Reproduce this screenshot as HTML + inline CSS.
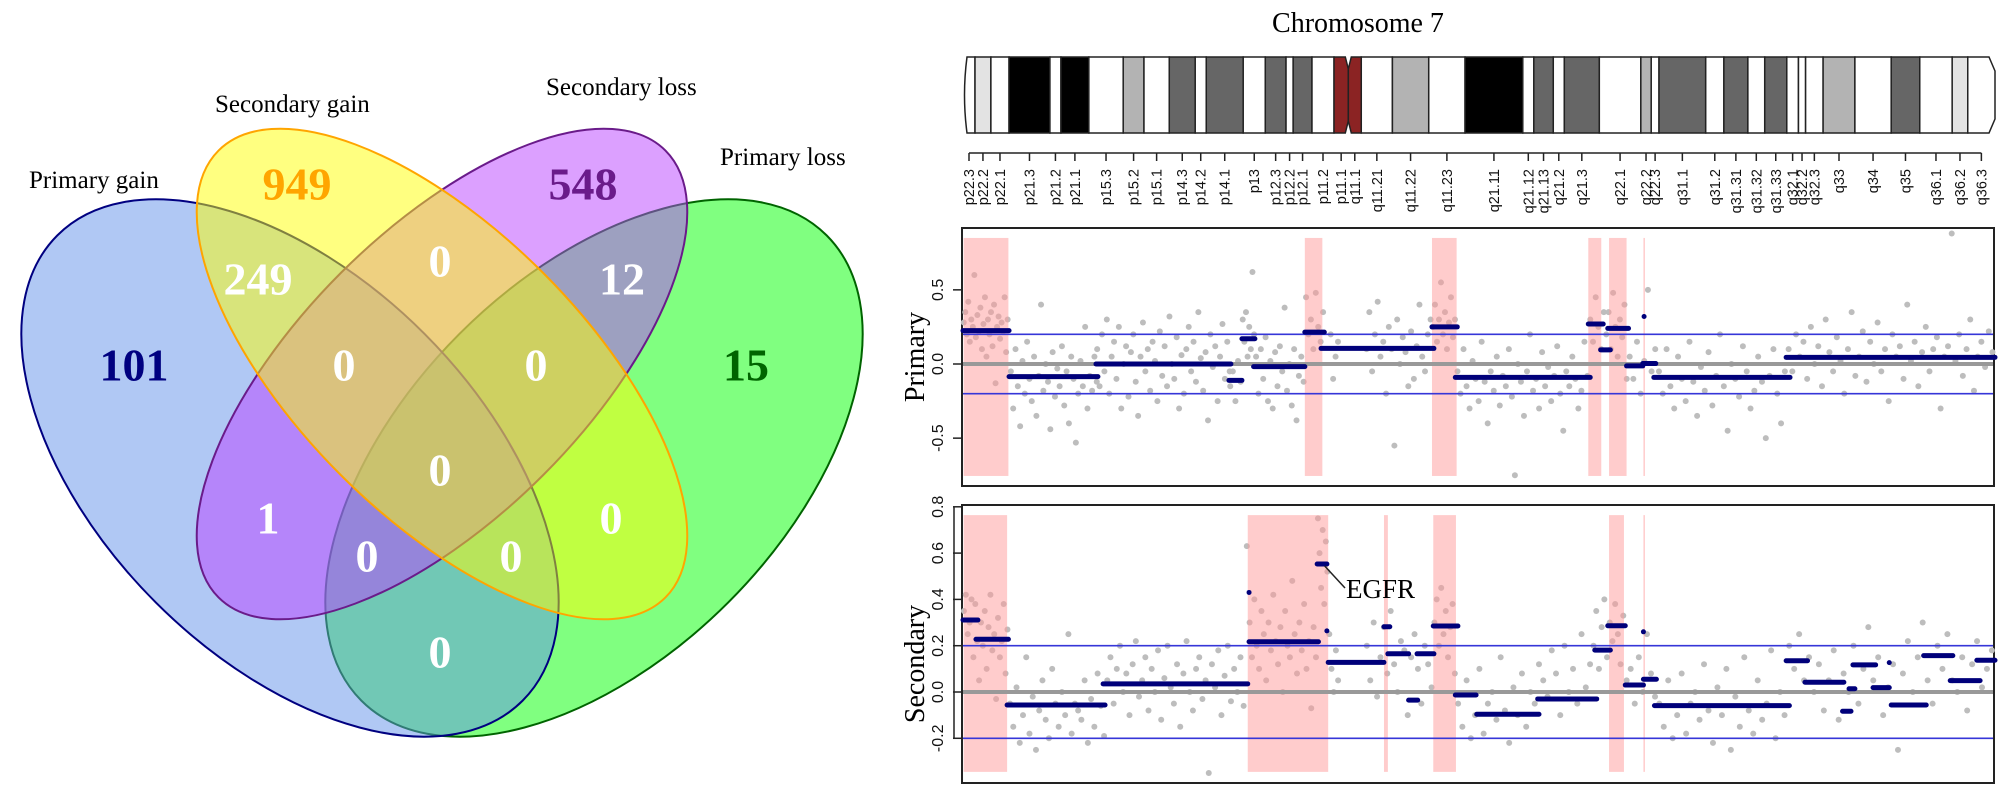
<!DOCTYPE html>
<html><head><meta charset="utf-8"><title>Venn and Chromosome 7 copy number</title>
<style>
html,body{margin:0;padding:0;background:#fff;}
svg{display:block;}
.serif{font-family:"Liberation Serif",serif;}
.sans{font-family:"Liberation Sans",sans-serif;}
</style></head>
<body>
<svg id="fig" width="2008" height="796" viewBox="0 0 2008 796" xmlns="http://www.w3.org/2000/svg">
  <g id="venn">
    <ellipse cx="594" cy="468" rx="329" ry="190" transform="rotate(-45 594 468)" fill="#01ff01" fill-opacity="0.5" stroke="#006400" stroke-width="2"/>
    <ellipse cx="290" cy="468" rx="329" ry="190" transform="rotate(45 290 468)" fill="#6191e9" fill-opacity="0.5" stroke="#000080" stroke-width="2"/>
    <ellipse cx="442" cy="374" rx="316" ry="143" transform="rotate(-45 442 374)" fill="#b941ff" fill-opacity="0.5" stroke="#6a1b8a" stroke-width="2"/>
    <ellipse cx="442" cy="374" rx="316" ry="143" transform="rotate(45 442 374)" fill="#ffff01" fill-opacity="0.5" stroke="#ffa500" stroke-width="2"/>
    <g class="serif" font-size="25" fill="#000">
      <text x="29" y="188">Primary gain</text>
      <text x="215" y="112">Secondary gain</text>
      <text x="546" y="95">Secondary loss</text>
      <text x="720" y="165">Primary loss</text>
    </g>
    <g class="serif" font-size="46" font-weight="bold" text-anchor="middle" dominant-baseline="central" fill="#fff">
      <text x="297" y="184" fill="#ffa500">949</text>
      <text x="583" y="184" fill="#6a1b8a">548</text>
      <text x="258" y="279">249</text>
      <text x="440" y="261">0</text>
      <text x="622" y="279">12</text>
      <text x="134" y="365" fill="#000080">101</text>
      <text x="344" y="365">0</text>
      <text x="536" y="365">0</text>
      <text x="746" y="365" fill="#006400">15</text>
      <text x="440" y="470">0</text>
      <text x="268" y="518">1</text>
      <text x="611" y="518">0</text>
      <text x="367" y="556">0</text>
      <text x="511" y="556">0</text>
      <text x="440" y="652">0</text>
    </g>
  </g>
  <text x="1358" y="32" class="serif" font-size="28" text-anchor="middle">Chromosome 7</text>
  <g id="ideo"></g>
  <g id="bandaxis"></g>
  <g id="primary"></g>
  <g id="secondary"></g>
</svg>
<script>
const bandNames = ["p22.3","p22.2","p22.1","p21.3","p21.2","p21.1","p15.3","p15.2","p15.1","p14.3","p14.2","p14.1","p13","p12.3","p12.2","p12.1","p11.2","p11.1","q11.1","q11.21","q11.22","q11.23","q21.11","q21.12","q21.13","q21.2","q21.3","q22.1","q22.2","q22.3","q31.1","q31.2","q31.31","q31.32","q31.33","q32.1","q32.2","q32.3","q33","q34","q35","q36.1","q36.2","q36.3"];
const bandEdges = [0,1.85,4.3,7.1,13.4,15.1,19.4,24.7,27.9,31.8,35.8,37.5,43.2,46.6,49.8,50.9,53.8,57.2,59.4,61.4,66.2,71.8,77.4,86.3,88.0,91.0,92.7,98.1,104.5,106.1,107.3,114.5,117.3,121.0,123.6,127.0,128.8,129.9,132.6,137.5,143.1,147.5,152.5,154.9,159.1];
const bandStains = ["w","vl","w","b","w","b","w","l","w","d","w","d","w","d","w","d","w","a","a","w","l","w","b","w","d","w","d","w","l","w","d","w","d","w","d","w","w","w","l","w","d","w","vl","w"];

const primaryTicks = [-0.5,0,0.5];
const primaryTickLabels = ["-0.5","0.0","0.5"];
const secondaryTicks = [-0.2,0,0.2,0.4,0.6,0.8];
const secondaryTickLabels = ["-0.2","0.0","0.2","0.4","0.6","0.8"];

const primaryRegionStart = [0.1,52.7,72.3,96.4,99.6,104.9];
const primaryRegionEnd   = [7.0,55.4,76.1,98.4,102.3,105.1];
const secondaryRegionStart = [0.1,43.9,64.9,72.5,99.6,104.9];
const secondaryRegionEnd   = [6.8,56.3,65.5,76.0,101.9,105.1];

const primarySegStart = [0,7.1,20.5,41.0,43.0,44.8,52.7,55.2,72.3,75.9,96.4,98.3,99.4,102.3,104.8,105.0,106.5,126.9];
const primarySegEnd   = [7.1,20.8,41.3,43.0,45.0,52.7,55.7,72.6,76.2,96.7,98.7,99.8,102.6,104.8,106.8,105.0,127.5,159.1];
const primarySegValue = [0.225,-0.085,0.0,-0.11,0.17,-0.018,0.215,0.105,0.25,-0.09,0.27,0.095,0.24,-0.013,0.003,0.32,-0.09,0.045];

const secondarySegStart = [0,2.0,6.8,21.6,44.1,44.1,54.6,56.1,56.3,64.9,65.5,68.7,70.0,72.5,75.9,79.2,88.6,97.4,99.4,102.1,104.9,104.9,106.6,126.9,129.8,135.6,136.6,137.2,140.3,142.8,143.1,148.1,152.2,156.3];
const secondarySegEnd   = [2.3,7.0,21.9,43.9,44.1,54.8,56.1,56.1,64.9,65.8,68.7,70.1,72.6,76.3,79.1,88.8,97.7,99.8,102.1,104.9,104.9,106.9,127.4,130.2,135.8,136.9,137.5,140.7,142.8,142.8,148.5,152.6,156.8,159.1];
const secondarySegValue = [0.311,0.228,-0.056,0.035,0.43,0.217,0.553,0.264,0.128,0.282,0.165,-0.035,0.165,0.285,-0.013,-0.096,-0.030,0.181,0.286,0.030,0.26,0.055,-0.059,0.135,0.042,-0.083,0.014,0.117,0.019,0.127,-0.056,0.157,0.049,0.137];

const primaryClusterStart = [0,7.2,20.5,41,43,45,52.7,56.5,62,72.3,76,96.5,99,102.5,107,127];
const primaryClusterEnd   = [7,20.8,41.3,43,45,52.7,55.7,58,72.3,76,96.5,99,102.5,107,127,159];
const primaryClusterValues = [
 [0.28,0.35,0.2,0.42,0.15,0.3,0.25,0.6,0.18,0.33,0.22,0.38,0.1,0.27,0.45,0.05,0.3,0.2,0.35,0.12,0.4,-0.13,0.25,0.32,0.17,0.28,0.22,0.45,0.08,0.3],
 [-0.05,-0.3,0.1,-0.15,-0.42,0.02,-0.2,0.15,-0.1,-0.25,0.05,-0.35,-0.08,0.4,-0.18,0,-0.12,-0.44,0.08,-0.22,-0.03,-0.15,0.12,-0.28,-0.05,-0.4,0.05,-0.1,-0.53,-0.2,0.02,-0.15,0.25,-0.3,-0.08,-0.18,0.05,-0.12],
 [0.1,-0.15,0.2,-0.05,0.3,-0.2,0.05,0.15,-0.1,0.25,-0.3,0,0.12,-0.22,0.08,0.2,-0.12,-0.35,0.05,0.28,-0.05,0.1,-0.18,0.15,0.02,-0.25,0.22,-0.08,0.12,-0.15,0.32,0,-0.1,0.18,-0.3,0.06,-0.2,0.1,0.25,-0.05,0.15,-0.12,0.35,0.04,-0.18,0.08,-0.38,0.2,-0.02,0.12,-0.25,0.05,0.27,-0.1,0.15,-0.05],
 [-0.15,-0.05,-0.25,0.02,-0.12],
 [0.3,0.15,0.35,0.05,0.25,0.1,0.62,0.2],
 [0.05,-0.2,0.1,-0.1,0.18,-0.25,0.02,-0.3,0.08,-0.15,0.12,-0.05,0.38,-0.18,0,-0.28,0.1,-0.38,-0.08,0.05,-0.12],
 [0.45,0.2,0.3,0.1,0.48,0.25,0.15,0.35],
 [0.2,-0.1,0.05,0.15],
 [0.1,0.35,-0.05,0.2,0.42,0.05,0.15,-0.2,0.25,0.1,-0.55,0.3,0,0.18,0.08,-0.15,0.22,-0.1,0.12,0.4,0.05,-0.05,0.2,0.3],
 [0.25,0.4,0.15,0.3,0.55,0.2,0.35,0.1,0.28,0.45,0.18,0.3],
 [-0.05,-0.2,0.1,-0.15,-0.3,0.02,-0.1,-0.25,0.15,-0.12,-0.4,-0.05,-0.18,0.05,-0.28,-0.08,-0.15,0.1,-0.22,-0.75,0,-0.12,-0.35,-0.05,0.2,-0.18,-0.1,-0.3,0.08,-0.15,-0.02,-0.25,-0.08,0.12,-0.2,-0.45,-0.05,-0.15,0.05,-0.1,-0.3,-0.18,0.15,-0.08],
 [0.3,0.15,0.45,0.25,0.1,0.35],
 [0.2,0.35,0.1,0.48,0.25,0.05,0.3,0.18,0.4,-0.1],
 [0.05,-0.1,0.15,-0.2,0.02,0.5,-0.05,0.1],
 [-0.05,-0.2,0.1,-0.15,-0.3,0.05,-0.1,-0.25,0.15,-0.12,-0.35,-0.02,-0.18,0.08,-0.28,-0.08,0.2,-0.15,-0.45,0,-0.1,-0.22,0.12,-0.05,-0.3,-0.18,0.05,-0.12,-0.5,-0.08,0.1,-0.2,-0.4,-0.05],
 [0.1,-0.05,0.2,0.05,0.15,-0.1,0.25,0.0,0.12,-0.15,0.3,0.08,-0.05,0.18,0.02,-0.2,0.1,0.35,-0.08,0.05,0.22,-0.12,0.15,0.0,0.28,-0.05,0.1,-0.25,0.2,0.05,0.12,-0.1,0.4,0.02,0.15,-0.15,0.08,0.25,-0.05,0.1,0.18,-0.3,0.05,0.12,0.88,0.02,0.2,-0.08,0.1,0.3,-0.18,0.05,0.15,-0.02,0.22,0.08]
];
const secondaryClusterStart = [0,7,22,44,54.6,56.3,62,72.5,76,97,102,107,127];
const secondaryClusterEnd   = [7,22,44,54.6,56.3,58,72.5,76,97,102,107,127,159];
const secondaryClusterValues = [
 [0.35,0.42,0.25,0.3,0.4,0.15,0.38,0.22,0.05,0.3,0.2,0.35,0.1,0.28,0.42,0.18,0.25,-0.03,0.32,0.15,0.22,0.38,0.08,0.27],
 [-0.05,-0.15,0.02,-0.22,-0.1,0.15,-0.18,-0.02,-0.25,-0.08,0.05,-0.12,-0.2,0.1,-0.05,-0.15,0.0,-0.1,0.25,-0.18,-0.05,-0.08,-0.12,0.05,-0.22,-0.03,-0.15,0.08,-0.06,-0.19],
 [0.05,0.15,-0.05,0.1,0.2,0.0,0.08,-0.1,0.12,0.22,-0.02,0.05,0.15,-0.08,0.1,0.0,0.18,-0.12,0.06,0.2,0.02,-0.05,0.12,-0.15,0.08,0.22,0.0,-0.08,0.1,0.15,-0.03,0.05,-0.35,0.12,0.02,0.18,-0.1,0.07,0.2,-0.04,0.1,0.0,0.15,-0.06,0.63],
 [0.3,0.15,0.4,0.2,0.1,0.35,0.25,0.05,0.3,0.18,0.42,0.22,0.12,0.28,0.0,0.35,0.2,0.15,0.48,0.25,0.08,0.3,0.18,0.38,0.1,0.22,-0.07,0.28,0.15],
 [0.75,0.6,0.45,0.7,0.38,0.65,0.52],
 [0.25,0.1,0.0,0.18,0.05],
 [0.2,0.05,0.3,-0.02,0.15,0.28,0.08,0.35,0.12,0.0,0.22,0.18,-0.1,0.15,0.25,0.1,-0.05,0.2,0.12,0.02],
 [0.3,0.4,0.2,0.45,0.25,0.35,0.15,0.28,0.38,0.08],
 [-0.05,-0.15,0.05,-0.2,-0.1,0.1,-0.18,-0.05,0.0,-0.12,0.15,-0.08,-0.22,0.02,-0.1,0.08,-0.15,0.0,-0.05,0.12,0.05,-0.02,0.18,0.08,-0.1,0.2,0.0,0.1,-0.05,0.25,0.02,0.12],
 [0.2,0.35,0.1,0.28,0.4,0.15,0.3,0.22,0.38,0.25,0.12,0.33],
 [0.05,0.1,-0.05,0.15,0.0,0.25,0.08,-0.02],
 [-0.05,-0.15,0.05,-0.2,-0.1,0.08,-0.18,-0.05,0.0,-0.12,0.12,-0.08,-0.22,0.02,-0.1,0.1,-0.25,-0.02,-0.15,0.15,-0.08,-0.18,0.05,-0.12,-0.05,0.18,-0.2,0.0,-0.1],
 [0.2,0.1,0.25,0.05,0.15,0.0,0.12,-0.08,0.05,0.18,-0.12,0.08,0.0,0.2,-0.05,0.1,0.28,0.05,0.15,-0.1,0.02,0.12,-0.25,0.08,0.22,0.0,0.15,0.3,0.05,-0.05,0.2,0.1,0.25,0.05,0.0,0.15,-0.08,0.12,0.22,0.02,0.1,0.18]
];

const NS = "http://www.w3.org/2000/svg";
const X0 = 963, XW = 1032, CHR = 159.1;
function xScale(mb){ return X0 + mb * XW / CHR; }
function yPrimary(v){ return 364 - v * 148.3; }
function ySecondary(v){ return 692 - v * 231.5; }
function mk(tag, parent, attrs){
  const el = document.createElementNS(NS, tag);
  for (const k in attrs) el.setAttribute(k, attrs[k]);
  parent.appendChild(el);
  return el;
}
const stainColor = {w:"#ffffff", vl:"#e3e3e3", l:"#b3b3b3", d:"#666666", b:"#000000", a:"#8b2323"};

const ideo = document.getElementById('ideo');
const IT = 57, IB = 133;
for (let i = 0; i < bandNames.length; i++) {
  const x1 = xScale(bandEdges[i]), x2 = xScale(bandEdges[i+1]);
  let el;
  if (bandStains[i] === 'a') {
    const pts = bandNames[i] === 'p11.1'
      ? [[x1,IT],[x2-3,IT],[x2,IT+12],[x2,IB-12],[x2-3,IB],[x1,IB]]
      : [[x1+3,IT],[x2,IT],[x2,IB],[x1+3,IB],[x1,IB-12],[x1,IT+12]];
    el = mk('polygon', ideo, {points: pts.map(p=>p.join(',')).join(' '), fill: stainColor.a, stroke:"#222", "stroke-width":1.5});
  } else if (i === 0) {
    el = mk('path', ideo, {d:`M${x2},${IT} L${x1+4},${IT} Q${x1-1},${(IT+IB)/2} ${x1+4},${IB} L${x2},${IB} Z`, fill: stainColor[bandStains[i]], stroke:"#222", "stroke-width":1.5});
  } else if (i === bandNames.length - 1) {
    el = mk('path', ideo, {d:`M${x1},${IT} L${x2-6},${IT} L${x2},${IT+14} L${x2},${IB-14} L${x2-6},${IB} L${x1},${IB} Z`, fill: stainColor[bandStains[i]], stroke:"#222", "stroke-width":1.5});
  } else {
    el = mk('rect', ideo, {x:x1, y:IT, width:x2-x1, height:IB-IT, fill: stainColor[bandStains[i]], stroke:"#222", "stroke-width":1.5});
  }
  
  
}

const bax = document.getElementById('bandaxis');
const mids = bandNames.map((n,i)=> xScale((bandEdges[i]+bandEdges[i+1])/2));
const axl = mk('line', bax, {x1:mids[0], x2:mids[mids.length-1], y1:153, y2:153, stroke:"#222", "stroke-width":1.5});


for (let i = 0; i < bandNames.length; i++) {
  const t = mk('line', bax, {x1:mids[i], x2:mids[i], y1:153, y2:161, stroke:"#222", "stroke-width":1.5});
  
  
  const tx = mk('text', bax, {x:0, y:0, transform:`translate(${mids[i]+5},169) rotate(-90)`, "text-anchor":"end", "font-size":"14.5", "font-family":"Liberation Sans, sans-serif", fill:"#111"});
  tx.textContent = bandNames[i];
  
  
}

function panel(g, ys, top, bottom, ticks, tickLabels, regS, regE, clS, clE, clV, segS, segE, segV, title, titleName, regTop, regBot, axisLine){
  const box = mk('rect', g, {x:962, y:top, width:1032, height:bottom-top, fill:"#fff", stroke:"#222", "stroke-width":2});
  
  
  for (let c = 0; c < clV.length; c++) {
    const n = clV[c].length;
    for (let k = 0; k < n; k++) {
      const mb = clS[c] + (clE[c]-clS[c]) * (k + 0.5) / n;
      const p = mk('circle', g, {cx:xScale(mb), cy:ys(clV[c][k]), r:3, fill:"#bdbdbd"});
      
      
    }
  }
  for (let i = 0; i < regS.length; i++) {
    const r = mk('rect', g, {x:xScale(regS[i]), y:regTop, width:Math.max(1.5, xScale(regE[i])-xScale(regS[i])), height:regBot-regTop, fill:"#ff9a9a", "fill-opacity":0.5});
    
    
  }
  const z = mk('line', g, {x1:963, x2:1993, y1:ys(0), y2:ys(0), stroke:"#999", "stroke-width":4});
  
  
  [0.2,-0.2].forEach(v=>{
    const l = mk('line', g, {x1:963, x2:1993, y1:ys(v), y2:ys(v), stroke:"#3636d8", "stroke-width":1.6});
    
    
  });
  for (let i = 0; i < segV.length; i++) {
    const s = mk('line', g, {x1:xScale(segS[i]), x2:xScale(segE[i]), y1:ys(segV[i]), y2:ys(segV[i]), stroke:"#00007a", "stroke-width":5, "stroke-linecap":"round"});
    
    
  }
  if (axisLine) {
    const al = mk('line', g, {x1:954, x2:954, y1:ys(ticks[0]), y2:ys(ticks[ticks.length-1]), stroke:"#222", "stroke-width":1.5});
    
    
  }
  for (let i = 0; i < ticks.length; i++) {
    const y = ys(ticks[i]);
    const t = mk('line', g, {x1:953, x2:962, y1:y, y2:y, stroke:"#222", "stroke-width":1.5});
    
    
    const lb = mk('text', g, {x:0, y:0, transform:`translate(943,${y}) rotate(-90)`, "text-anchor":"middle", "font-size":"16", "font-family":"Liberation Sans, sans-serif", fill:"#111"});
    lb.textContent = tickLabels[i];
    
    
  }
  const tt = mk('text', g, {x:0, y:0, transform:`translate(924,${(top+bottom)/2 + (titleName==='secondary'?20:0)}) rotate(-90)`, "text-anchor":"middle", "font-size":"28", "font-family":"Liberation Serif, serif", fill:"#000"});
  tt.textContent = title;
  
  
}

panel(document.getElementById('primary'), yPrimary, 228, 486, primaryTicks, primaryTickLabels,
  primaryRegionStart, primaryRegionEnd, primaryClusterStart, primaryClusterEnd, primaryClusterValues,
  primarySegStart, primarySegEnd, primarySegValue, "Primary", "primary", yPrimary(0.85), yPrimary(-0.755), false);
panel(document.getElementById('secondary'), ySecondary, 505, 783, secondaryTicks, secondaryTickLabels,
  secondaryRegionStart, secondaryRegionEnd, secondaryClusterStart, secondaryClusterEnd, secondaryClusterValues,
  secondarySegStart, secondarySegEnd, secondarySegValue, "Secondary", "secondary", ySecondary(0.764), ySecondary(-0.345), true);

const sec = document.getElementById('secondary');
const egfrMb = 55.3, egfrVal = 0.553;
const ar = mk('line', sec, {x1:xScale(egfrMb)+3, y1:ySecondary(egfrVal)+2, x2:1345, y2:588, stroke:"#222", "stroke-width":1.5});


const eg = mk('text', sec, {x:1346, y:598, "font-size":"27", "font-family":"Liberation Serif, serif", fill:"#000"});
eg.textContent = "EGFR";


</script>
</body></html>
